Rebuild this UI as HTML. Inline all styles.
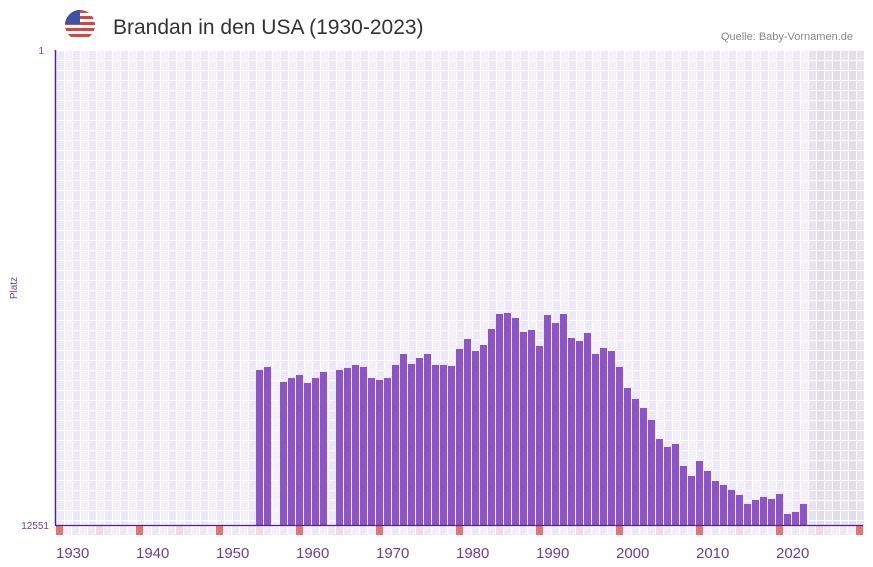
<!DOCTYPE html>
<html><head><meta charset="utf-8"><style>
body{margin:0;background:#fff;font-family:"Liberation Sans",sans-serif}
svg{display:block}
</style></head><body>
<svg id="chart" width="873" height="567" xmlns="http://www.w3.org/2000/svg">
<g>
<clipPath id="fc"><circle cx="80" cy="25" r="15"/></clipPath>
<g clip-path="url(#fc)">
<rect x="65" y="10" width="30" height="30" fill="#fff"/>
<rect x="65" y="10" width="30" height="3" fill="#e0413b"/>
<rect x="65" y="16" width="30" height="3" fill="#e0413b"/>
<rect x="65" y="22" width="30" height="3" fill="#e0413b"/>
<rect x="65" y="28" width="30" height="3" fill="#e0413b"/>
<rect x="65" y="34" width="30" height="3" fill="#e0413b"/>
<rect x="65" y="10" width="15" height="14" fill="#3f51a6"/>
</g></g>
<text x="113" y="34" font-size="21" fill="#333">Brandan in den USA (1930-2023)</text>
<text x="853" y="40" font-size="11" fill="#888" text-anchor="end">Quelle: Baby-Vornamen.de</text>
<text transform="translate(17,288) rotate(-90)" font-size="10" fill="#6a3fa0" text-anchor="middle">Platz</text>
<text x="44" y="54" font-size="10" fill="#6a3fa0" text-anchor="end">1</text>
<text x="49" y="529" font-size="10" fill="#6a3fa0" text-anchor="end">12551</text>
<g id="grid"></g><g id="bars"></g><g id="marks"></g><g id="xlabels"></g>
<line x1="55.5" y1="50" x2="55.5" y2="525" stroke="#4e2385" stroke-width="1.5"/>
<line x1="55" y1="525.5" x2="863" y2="525.5" stroke="#4e2385" stroke-width="1.2"/>
</svg>
<script>
const years=[1955,1956,1958,1959,1960,1961,1962,1963,1965,1966,1967,1968,1969,1970,1971,1972,1973,1974,1975,1976,1977,1978,1979,1980,1981,1982,1983,1984,1985,1986,1987,1988,1989,1990,1991,1992,1993,1994,1995,1996,1997,1998,1999,2000,2001,2002,2003,2004,2005,2006,2007,2008,2009,2010,2011,2012,2013,2014,2015,2016,2017,2018,2019,2020,2021,2022,2023];
const ranks=[8455,8376,8772,8667,8587,8798,8667,8508,8455,8402,8323,8376,8667,8719,8667,8323,8033,8297,8138,8033,8323,8323,8349,7901,7637,7954,7795,7372,6976,6950,7082,7452,7399,7821,7003,7214,6976,7610,7689,7478,8033,7874,7954,8376,8931,9222,9460,9777,10279,10490,10411,10992,11256,10860,11124,11388,11493,11625,11757,11995,11889,11810,11863,11731,12259,12206,11995];
const xTicks=[1930,1940,1950,1960,1970,1980,1990,2000,2010,2020];
const y0=1930,y1=2030,rMin=1,rMax=12551;
const X=y=>56+(y-y0)*8;
const Y=r=>50+(r-rMin)/(rMax-rMin)*475;
const NS="http://www.w3.org/2000/svg";
function mk(p,t,a){const e=document.createElementNS(NS,t);for(const k in a)e.setAttribute(k,a[k]);p.appendChild(e);return e;}
const g=document.getElementById('grid');
for(let yr=y0;yr<=y1;yr++){
  const future=yr>2023;
  for(let j=0;j<48;j++){
    const c=mk(g,'rect',{x:X(yr)+1,y:50+j*10+1,width:7,height:(j==47?4:9),fill:future?(yr%2?'#e2dded':'#e6e2ee'):(yr%2?'#f3f0fb':'#ede8f8')});
    
    
  }
}
const b=document.getElementById('bars');
years.forEach((yr,i)=>{
  const t=Y(ranks[i]);
  const r=mk(b,'rect',{x:X(yr),y:t,width:7,height:525-t,fill:'#8c54c7'});
  
  
});
const m=document.getElementById('marks');
for(let yr=y0;yr<=y1;yr++){
  const col=yr%10==0?'#e5737a':(yr%5==0?'#f4d6df':(yr%2?'#f3f0fb':'#ede8f8'));
  const r=mk(m,'rect',{x:X(yr),y:526,width:7,height:9,fill:col});
  
  
}
const xl=document.getElementById('xlabels');
xTicks.forEach(t=>{
  const e=mk(xl,'text',{x:X(t),y:558,'font-size':15,fill:'#6a3fa0'});
  e.textContent=t;
  
  
});
</script>
</body></html>
